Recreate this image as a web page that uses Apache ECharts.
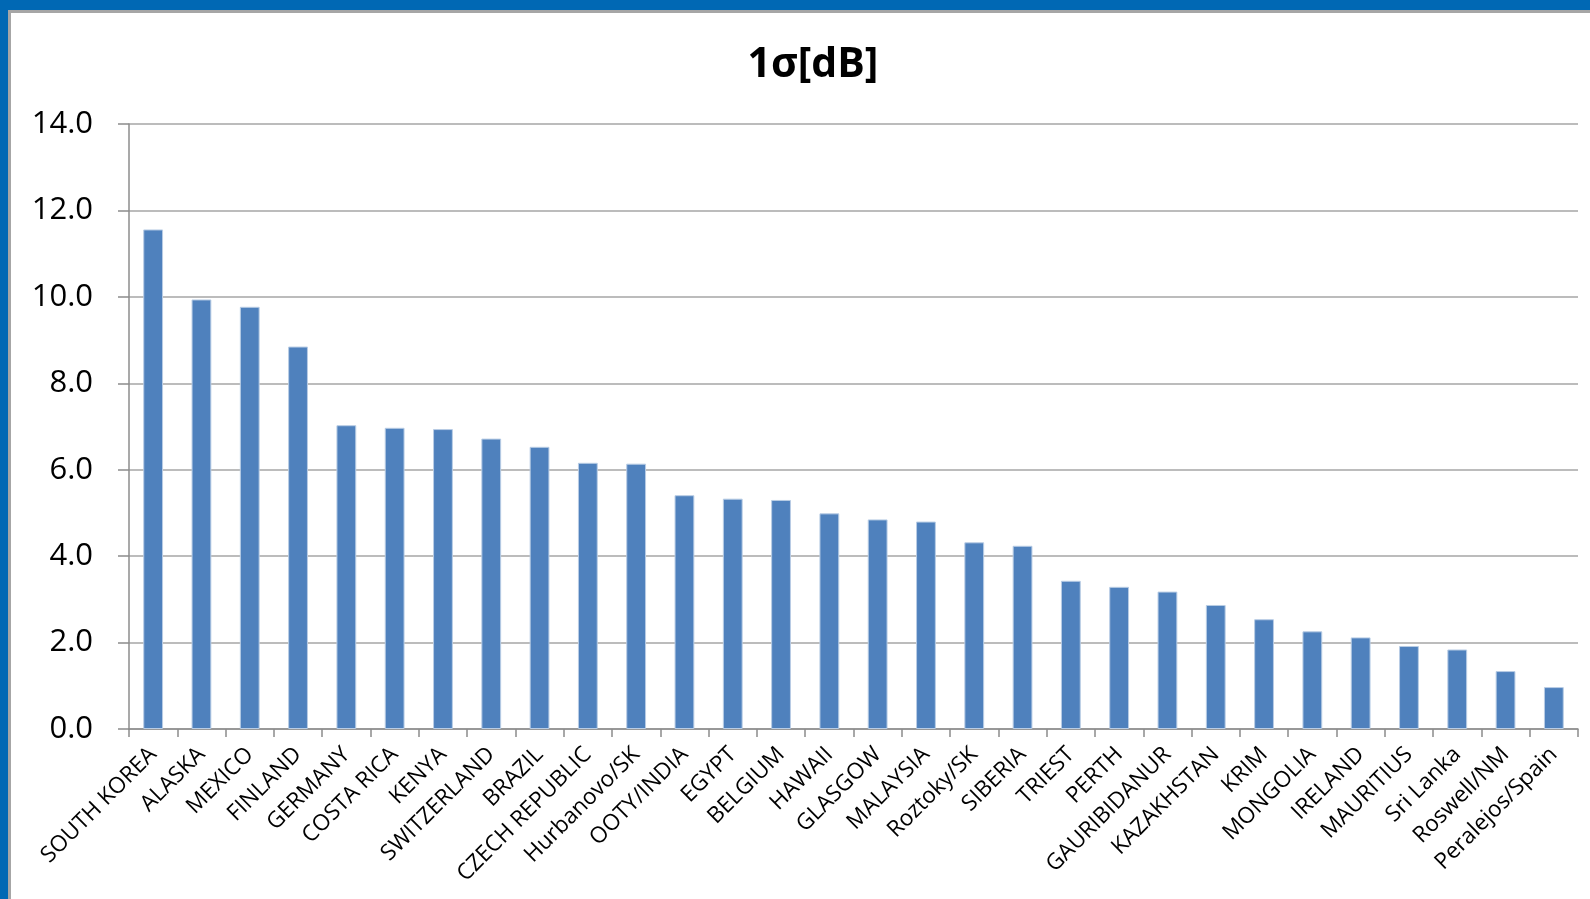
<!DOCTYPE html>
<html>
<head>
<meta charset="utf-8">
<script src="https://cdn.jsdelivr.net/npm/echarts@6/dist/echarts.min.js"></script>
<style>
html,body{margin:0;padding:0;width:1590px;height:899px;overflow:hidden;background:#0068b4;}
#frame{position:absolute;left:8px;top:10px;width:1582px;height:889px;background:#fff;border-left:3px solid #a6a6a6;border-top:3px solid #a6a6a6;box-sizing:border-box;}
#chart{position:absolute;left:0;top:0;width:1590px;height:899px;}
</style>
</head>
<body>
<div id="frame"></div>
<div id="chart"></div>
<script>
const titleText = '1σ[dB]';
const categories = ['SOUTH KOREA','ALASKA','MEXICO','FINLAND','GERMANY','COSTA RICA','KENYA','SWITZERLAND','BRAZIL','CZECH REPUBLIC','Hurbanovo/SK','OOTY/INDIA','EGYPT','BELGIUM','HAWAII','GLASGOW','MALAYSIA','Roztoky/SK','SIBERIA','TRIEST','PERTH','GAURIBIDANUR','KAZAKHSTAN','KRIM','MONGOLIA','IRELAND','MAURITIUS','Sri Lanka','Roswell/NM','Peralejos/Spain'];
const sigmaValues = [11.56,9.94,9.77,8.85,7.03,6.97,6.94,6.72,6.53,6.16,6.14,5.41,5.33,5.30,4.99,4.85,4.80,4.32,4.24,3.43,3.29,3.18,2.87,2.54,2.26,2.12,1.92,1.84,1.34,0.97];
const yMin = 0, yMax = 14, yStep = 2;

const chart = echarts.init(document.getElementById('chart'), null, {renderer:'canvas'});
chart.setOption({
  backgroundColor: 'transparent',
  animation: false,
  title: {
    text: titleText,
    left: 808, top: 60, textAlign: 'center', textVerticalAlign: 'middle',
    textStyle: {fontFamily: 'Open Sans', fontWeight: 'bold', fontSize: 41, color: '#000'}
  },
  grid: {left: 129, right: 12, top: 124, bottom: 170, containLabel: false},
  xAxis: {
    type: 'category',
    data: categories,
    boundaryGap: true,
    axisLine: {lineStyle: {color: '#8c8c8c', width: 1.5}},
    axisTick: {show: true, length: 8, lineStyle: {color: '#8c8c8c', width: 1.5}, alignWithLabel: false},
    axisLabel: {rotate: 45, interval: 0, margin: 22, fontFamily: 'Open Sans', fontSize: 22.5, color: '#000'}
  },
  yAxis: {
    type: 'value',
    min: yMin, max: yMax, interval: yStep,
    axisLine: {show: true, lineStyle: {color: '#8c8c8c', width: 1.5}},
    axisTick: {show: true, length: 11, lineStyle: {color: '#8c8c8c', width: 1.5}},
    splitLine: {show: true, lineStyle: {color: '#a6a6a6', width: 1.5}},
    axisLabel: {margin: 36, fontFamily: 'Open Sans', fontSize: 31, color: '#000', formatter: v => v.toFixed(1)}
  },
  series: [{
    type: 'bar',
    data: sigmaValues,
    barWidth: '41%',
    itemStyle: {color: '#4f81bd', borderColor: '#b9cde5', borderWidth: 1}
  }]
});
</script>
</body>
</html>
